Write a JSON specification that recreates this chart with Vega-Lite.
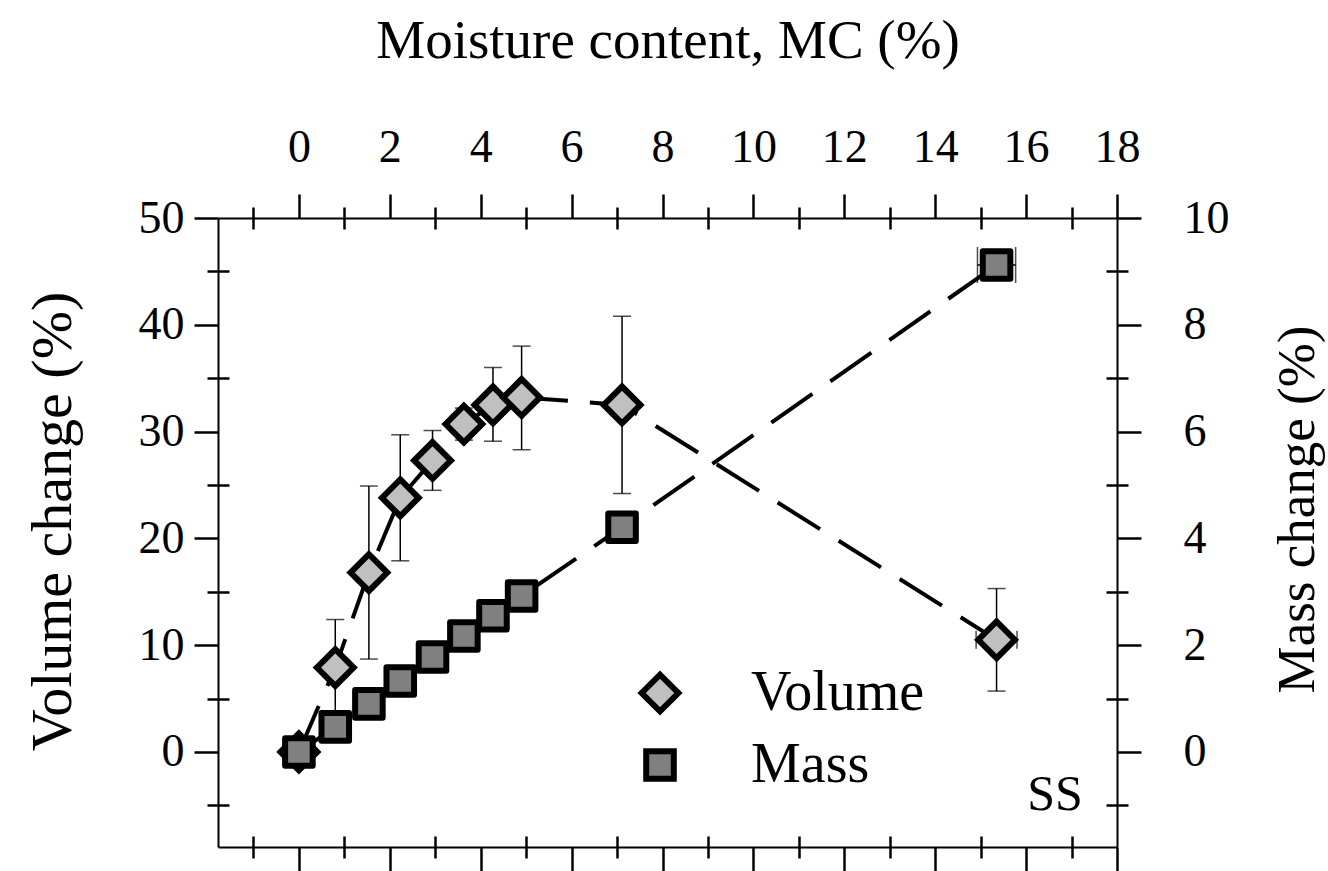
{
  "$schema": "https://vega.github.io/schema/vega-lite/v6.json",
  "width": 899,
  "height": 629,
  "autosize": {"type": "none"},
  "padding": {"left": 218, "top": 218, "right": 211, "bottom": 24},
  "background": "white",
  "config": {
    "font": "Liberation Serif",
    "view": {"stroke": null},
    "axis": {
      "domainColor": "black", "domainWidth": 2, "tickColor": "black", "tickWidth": 2.5,
      "labelFont": "Liberation Serif", "titleFont": "Liberation Serif",
      "labelFontSize": 46, "titleFontSize": 58, "labelColor": "black", "titleColor": "black",
      "titleFontWeight": "normal", "grid": false, "labelFlush": false, "labelOverlap": false
    },
    "legend": {
      "orient": "none", "legendX": 414, "legendY": 447,
      "labelFont": "Liberation Serif", "labelFontSize": 56, "labelColor": "black", "labelLimit": 400,
      "symbolStrokeWidth": 6, "symbolSize": 1440,
      "labelOffset": 63, "rowPadding": 13, "title": null
    }
  },
  "datasets": {
    "vol": [
      {"series": "Volume", "mc": 0, "v": 0, "lo": 0, "hi": 0},
      {"series": "Volume", "mc": 0.8, "v": 7.9, "lo": 3.4, "hi": 12.4},
      {"series": "Volume", "mc": 1.54, "v": 16.8, "lo": 8.7, "hi": 24.9},
      {"series": "Volume", "mc": 2.23, "v": 23.8, "lo": 17.9, "hi": 29.7},
      {"series": "Volume", "mc": 2.94, "v": 27.3, "lo": 24.5, "hi": 30.1},
      {"series": "Volume", "mc": 3.63, "v": 30.7, "lo": 29.2, "hi": 32.2},
      {"series": "Volume", "mc": 4.27, "v": 32.5, "lo": 29.1, "hi": 36.0},
      {"series": "Volume", "mc": 4.9, "v": 33.2, "lo": 28.3, "hi": 38.0},
      {"series": "Volume", "mc": 7.11, "v": 32.5, "lo": 24.2, "hi": 40.8},
      {"series": "Volume", "mc": 15.35, "v": 10.5, "lo": 5.7, "hi": 15.3, "mclo": 14.9, "mchi": 15.8}
    ],
    "mass": [
      {"series": "Mass", "mc": 0, "m": 0},
      {"series": "Mass", "mc": 0.8, "m": 0.47},
      {"series": "Mass", "mc": 1.54, "m": 0.9},
      {"series": "Mass", "mc": 2.23, "m": 1.33},
      {"series": "Mass", "mc": 2.94, "m": 1.78},
      {"series": "Mass", "mc": 3.63, "m": 2.17},
      {"series": "Mass", "mc": 4.27, "m": 2.55},
      {"series": "Mass", "mc": 4.9, "m": 2.92},
      {"series": "Mass", "mc": 7.11, "m": 4.21},
      {"series": "Mass", "mc": 15.35, "m": 9.12, "mclo": 14.93, "mchi": 15.77}
    ],
    "note": [{"label": "SS"}]
  },
  "resolve": {
    "scale": {"y": "independent"},
    "axis": {"x": "independent", "y": "independent"}
  },
  "layer": [
    {
      "data": {"name": "vol"},
      "mark": {"type": "rule", "color": "black", "strokeWidth": 1.5},
      "encoding": {
        "x": {"field": "mc", "type": "quantitative",
          "scale": {"domain": [-1.78, 18], "nice": false, "zero": false},
          "axis": {"orient": "top", "values": [0, 2, 4, 6, 8, 10, 12, 14, 16, 18], "tickSize": 24,
            "labelPadding": 23, "title": "Moisture content, MC (%)", "titleFontSize": 55, "titlePadding": 55}},
        "y": {"field": "lo", "type": "quantitative",
          "scale": {"domain": [-8.9, 50], "nice": false, "zero": false},
          "axis": {"orient": "left", "values": [0, 10, 20, 30, 40, 50], "tickSize": 24,
            "labelPadding": 10, "title": "Volume change (%)", "titlePadding": 56, "titleY": 303}},
        "y2": {"field": "hi"}
      }
    },
    {
      "data": {"name": "vol"},
      "transform": [{"fold": ["lo", "hi"], "as": ["bound", "val"]}],
      "mark": {"type": "tick", "orient": "horizontal", "color": "black", "size": 18, "thickness": 1.5},
      "encoding": {
        "x": {"field": "mc", "type": "quantitative",
          "scale": {"domain": [-1.78, 18], "nice": false, "zero": false},
          "axis": {"orient": "top", "values": [-1, 1, 3, 5, 7, 9, 11, 13, 15, 17], "tickSize": 22,
            "offset": -11, "domain": false, "labels": false, "title": null}},
        "y": {"field": "val", "type": "quantitative",
          "scale": {"domain": [-8.9, 50], "nice": false, "zero": false},
          "axis": {"orient": "left", "values": [-5, 5, 15, 25, 35, 45], "tickSize": 22,
            "offset": -11, "domain": false, "labels": false, "title": null}}
      }
    },
    {
      "data": {"name": "vol"},
      "transform": [{"filter": "datum.mclo != null"}],
      "mark": {"type": "rule", "color": "black", "strokeWidth": 1.5},
      "encoding": {
        "x": {"field": "mclo", "type": "quantitative",
          "scale": {"domain": [-1.78, 18], "nice": false, "zero": false},
          "axis": {"orient": "bottom", "values": [0, 2, 4, 6, 8, 10, 12, 14, 16, 18], "tickSize": 24,
            "labels": false, "title": null}},
        "x2": {"field": "mchi"},
        "y": {"field": "v", "type": "quantitative",
          "scale": {"domain": [-8.9, 50], "nice": false, "zero": false}, "axis": null}
      }
    },
    {
      "data": {"name": "vol"},
      "transform": [{"filter": "datum.mclo != null"}, {"fold": ["mclo", "mchi"], "as": ["bound", "xval"]}],
      "mark": {"type": "tick", "orient": "vertical", "color": "black", "size": 18, "thickness": 1.5},
      "encoding": {
        "x": {"field": "xval", "type": "quantitative",
          "scale": {"domain": [-1.78, 18], "nice": false, "zero": false},
          "axis": {"orient": "bottom", "values": [-1, 1, 3, 5, 7, 9, 11, 13, 15, 17], "tickSize": 22,
            "offset": -11, "domain": false, "labels": false, "title": null}},
        "y": {"field": "v", "type": "quantitative",
          "scale": {"domain": [-8.9, 50], "nice": false, "zero": false}, "axis": null}
      }
    },
    {
      "data": {"name": "vol"},
      "mark": {"type": "line", "color": "black", "strokeWidth": 4, "strokeDash": [50, 22]},
      "encoding": {
        "x": {"field": "mc", "type": "quantitative",
          "scale": {"domain": [-1.78, 18], "nice": false, "zero": false}, "axis": null},
        "y": {"field": "v", "type": "quantitative",
          "scale": {"domain": [-8.9, 50], "nice": false, "zero": false}, "axis": null}
      }
    },
    {
      "data": {"name": "mass"},
      "mark": {"type": "line", "color": "black", "strokeWidth": 4, "strokeDash": [50, 22]},
      "encoding": {
        "x": {"field": "mc", "type": "quantitative",
          "scale": {"domain": [-1.78, 18], "nice": false, "zero": false}, "axis": null},
        "y": {"field": "m", "type": "quantitative",
          "scale": {"domain": [-1.78, 10], "nice": false, "zero": false},
          "axis": {"orient": "right", "values": [0, 2, 4, 6, 8, 10], "tickSize": 24,
            "labelPadding": 42, "title": "Mass change (%)", "titleFontSize": 53, "titleAngle": 270, "titleBaseline": "top",
            "titlePadding": 42, "titleY": 291}}
      }
    },
    {
      "data": {"name": "vol"},
      "mark": {"type": "point", "filled": true, "strokeWidth": 6, "opacity": 1},
      "encoding": {
        "x": {"field": "mc", "type": "quantitative",
          "scale": {"domain": [-1.78, 18], "nice": false, "zero": false}, "axis": null},
        "y": {"field": "v", "type": "quantitative",
          "scale": {"domain": [-8.9, 50], "nice": false, "zero": false}, "axis": null},
        "shape": {"field": "series", "type": "nominal",
          "scale": {"domain": ["Volume", "Mass"], "range": ["diamond", "square"]}, "legend": {"title": null}},
        "fill": {"field": "series", "type": "nominal",
          "scale": {"domain": ["Volume", "Mass"], "range": ["#c0c0c0", "#808080"]}, "legend": {"title": null}},
        "stroke": {"field": "series", "type": "nominal",
          "scale": {"domain": ["Volume", "Mass"], "range": ["black", "black"]}, "legend": {"title": null}},
        "size": {"field": "series", "type": "nominal",
          "scale": {"type": "ordinal", "domain": ["Volume", "Mass"], "range": [1350, 760]}, "legend": {"title": null}}
      }
    },
    {
      "data": {"name": "mass"},
      "transform": [{"filter": "datum.mclo != null"}],
      "mark": {"type": "rule", "color": "black", "strokeWidth": 1.5},
      "encoding": {
        "x": {"field": "mclo", "type": "quantitative",
          "scale": {"domain": [-1.78, 18], "nice": false, "zero": false}, "axis": null},
        "x2": {"field": "mchi"},
        "y": {"field": "m", "type": "quantitative",
          "scale": {"domain": [-1.78, 10], "nice": false, "zero": false},
          "axis": {"orient": "right", "values": [-1, 1, 3, 5, 7, 9], "tickSize": 22,
            "offset": -11, "domain": false, "labels": false, "title": null}}
      }
    },
    {
      "data": {"name": "mass"},
      "transform": [{"filter": "datum.mclo != null"}, {"fold": ["mclo", "mchi"], "as": ["bound", "xval"]}],
      "mark": {"type": "tick", "orient": "vertical", "color": "black", "size": 36, "thickness": 1.5},
      "encoding": {
        "x": {"field": "xval", "type": "quantitative",
          "scale": {"domain": [-1.78, 18], "nice": false, "zero": false}, "axis": null},
        "y": {"field": "m", "type": "quantitative",
          "scale": {"domain": [-1.78, 10], "nice": false, "zero": false}, "axis": null}
      }
    },
    {
      "data": {"name": "mass"},
      "mark": {"type": "point", "filled": true, "strokeWidth": 6, "opacity": 1, "strokeJoin": "round"},
      "encoding": {
        "x": {"field": "mc", "type": "quantitative",
          "scale": {"domain": [-1.78, 18], "nice": false, "zero": false}, "axis": null},
        "y": {"field": "m", "type": "quantitative",
          "scale": {"domain": [-1.78, 10], "nice": false, "zero": false}, "axis": null},
        "shape": {"field": "series", "type": "nominal",
          "scale": {"domain": ["Volume", "Mass"], "range": ["diamond", "square"]}, "legend": {"title": null}},
        "fill": {"field": "series", "type": "nominal",
          "scale": {"domain": ["Volume", "Mass"], "range": ["#c0c0c0", "#808080"]}, "legend": {"title": null}},
        "stroke": {"field": "series", "type": "nominal",
          "scale": {"domain": ["Volume", "Mass"], "range": ["black", "black"]}, "legend": {"title": null}},
        "size": {"field": "series", "type": "nominal",
          "scale": {"type": "ordinal", "domain": ["Volume", "Mass"], "range": [1350, 760]}, "legend": {"title": null}}
      }
    },
    {
      "data": {"name": "note"},
      "mark": {"type": "text", "align": "right", "baseline": "alphabetic", "fontSize": 50, "color": "black", "font": "Liberation Serif"},
      "encoding": {
        "x": {"datum": 17.25, "type": "quantitative",
          "scale": {"domain": [-1.78, 18], "nice": false, "zero": false}, "axis": null},
        "y": {"datum": -5.4, "type": "quantitative",
          "scale": {"domain": [-8.9, 50], "nice": false, "zero": false}, "axis": null},
        "text": {"field": "label"}
      }
    }
  ]
}
